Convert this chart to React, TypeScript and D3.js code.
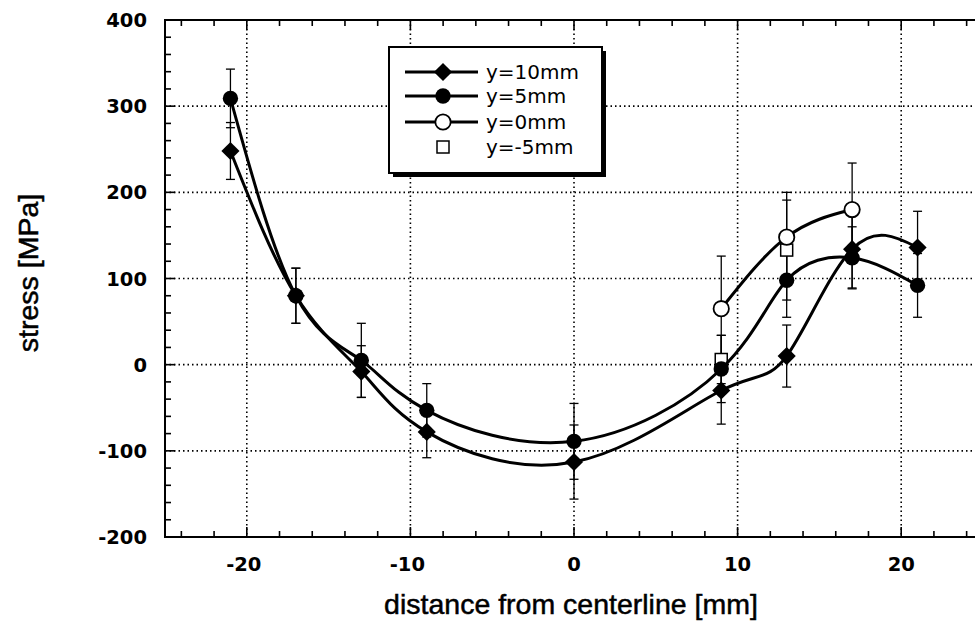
import React from 'react';
import * as d3 from 'd3';

const xPositions = [-21, -17, -13, -9, 0, 9, 13, 17, 21];
const y10Values = [248, 80, -8, -78, -113, -30, 10, 134, 136];
const y10Errors = [33, 32, 30, 30, 43, 39, 36, 45, 42];
const y5Values = [309, 80, 5, -53, -89, -5, 98, 124, 92];
const y5Errors = [34, 32, 43, 31, 44, 39, 43, 36, 37];
const y0X = [9, 13, 17];
const y0Values = [65, 148, 180];
const y0Errors = [61, 52, 54];
const yM5X = [9, 13];
const yM5Values = [6, 133];
const yM5Errors = [28, 58];

const xTickLabels = [-20, -10, 0, 10, 20];
const yTickLabels = [-200, -100, 0, 100, 200, 300, 400];
const legendLabels = ['y=10mm', 'y=5mm', 'y=0mm', 'y=-5mm'];

const W = 975;
const H = 628;
const FONT = "'DejaVu Sans', 'Liberation Sans', Arial, sans-serif";
const TITLE_FONT = "'Liberation Sans', Arial, Helvetica, sans-serif";

export default function App() {
  const x = d3.scaleLinear().domain([-25, 25]).range([165, 983]);
  const y = d3.scaleLinear().domain([-200, 400]).range([537, 20]);
  const line = d3
    .line<[number, number]>()
    .x((d) => x(d[0]))
    .y((d) => y(d[1]))
    .curve(d3.curveNatural);

  const xMinor = d3.range(-24, 25, 2).filter((v) => v % 10 !== 0);
  const yMinor = d3.range(-180, 400, 20).filter((v) => v % 100 !== 0);
  const xMajor = xTickLabels;
  const yMajor = yTickLabels;
  const x0 = x(-25);
  const x1 = x(25);
  const yTop = y(400);
  const yBot = y(-200);

  const diamond = d3.symbol(d3.symbolSquare, 165)();
  const circle = d3.symbol(d3.symbolCircle, 185)();

  const errBar = (xv: number, v: number, e: number, key: string) => {
    const cx = x(xv);
    return (
      <g key={key} stroke="#000" strokeWidth={1.3}>
        <line x1={cx} x2={cx} y1={y(v - e)} y2={y(v + e)} />
        <line x1={cx - 4.5} x2={cx + 4.5} y1={y(v - e)} y2={y(v - e)} />
        <line x1={cx - 4.5} x2={cx + 4.5} y1={y(v + e)} y2={y(v + e)} />
      </g>
    );
  };

  const zip = (xs: number[], ys: number[]) => xs.map((v, i) => [v, ys[i]] as [number, number]);

  const legendX0 = 389;
  const legendY0 = 47;
  const rowY = [72, 96, 122, 147];

  return (
    <div style={{ position: 'absolute', left: 0, top: 0 }}>
      <svg width={W} height={H} style={{ display: 'block', background: '#fff' }}>
        <rect x={0} y={0} width={W} height={H} fill="#fff" />
        {/* grid */}
        <g stroke="#000" strokeWidth={1.6} strokeDasharray="1.5,3">
          {xMajor.map((v) => (
            <line key={'gx' + v} x1={x(v)} x2={x(v)} y1={yTop} y2={yBot} />
          ))}
          {yMajor
            .filter((v) => v !== -200 && v !== 400)
            .map((v) => (
              <line key={'gy' + v} x1={x0} x2={x1} y1={y(v)} y2={y(v)} />
            ))}
        </g>
        {/* frame */}
        <rect x={x0} y={yTop} width={x1 - x0} height={yBot - yTop} fill="none" stroke="#000" strokeWidth={2} />
        {/* ticks */}
        <g stroke="#000" strokeWidth={1.6}>
          {xMinor.map((v) => (
            <g key={'xm' + v}>
              <line x1={x(v)} x2={x(v)} y1={yBot} y2={yBot - 6} />
              <line x1={x(v)} x2={x(v)} y1={yTop} y2={yTop + 6} />
            </g>
          ))}
          {xMajor.map((v) => (
            <g key={'xM' + v}>
              <line x1={x(v)} x2={x(v)} y1={yBot} y2={yBot - 10} />
              <line x1={x(v)} x2={x(v)} y1={yTop} y2={yTop + 10} />
            </g>
          ))}
          {yMinor.map((v) => (
            <line key={'ym' + v} x1={x0} x2={x0 + 6} y1={y(v)} y2={y(v)} />
          ))}
          {yMajor.map((v) => (
            <line key={'yM' + v} x1={x0} x2={x0 + 10} y1={y(v)} y2={y(v)} />
          ))}
        </g>
        {/* tick labels */}
        <g fontFamily={FONT} fontWeight="bold" fontSize={19.5} fill="#000">
          {yTickLabels.map((v) => (
            <text key={'yl' + v} x={147} y={y(v)} dy="0.36em" textAnchor="end">
              {v < 0 ? '-' + Math.abs(v) : String(v)}
            </text>
          ))}
          {xTickLabels.map((v) => (
            <text key={'xl' + v} x={x(v) - (v < 0 ? 3 : 0)} y={564} dy="0.36em" textAnchor="middle">
              {v < 0 ? '-' + Math.abs(v) : String(v)}
            </text>
          ))}
        </g>
        <text
          x={571}
          y={614}
          textAnchor="middle"
          fontFamily={TITLE_FONT}
          fontSize={28.5}
          fill="#000"
          stroke="#000"
          strokeWidth={0.5}
        >
          distance from centerline [mm]
        </text>
        <text
          transform={`translate(38,273) rotate(-90)`}
          textAnchor="middle"
          fontFamily={TITLE_FONT}
          fontSize={28.5}
          fill="#000"
          stroke="#000"
          strokeWidth={0.5}
        >
          stress [MPa]
        </text>

        {/* error bars */}
        {xPositions.map((xv, i) => errBar(xv, y10Values[i], y10Errors[i], 'e10' + i))}
        {xPositions.map((xv, i) => errBar(xv, y5Values[i], y5Errors[i], 'e5' + i))}
        {y0X.map((xv, i) => errBar(xv, y0Values[i], y0Errors[i], 'e0' + i))}
        {yM5X.map((xv, i) => errBar(xv, yM5Values[i], yM5Errors[i], 'em5' + i))}

        {/* squares */}
        {yM5X.map((xv, i) => (
          <rect
            key={'sq' + i}
            x={x(xv) - 6}
            y={y(yM5Values[i]) - 6}
            width={12}
            height={12}
            fill="#fff"
            stroke="#000"
            strokeWidth={1.5}
          />
        ))}

        {/* lines */}
        <g fill="none" stroke="#000" strokeWidth={3}>
          <path d={line(zip(xPositions, y10Values)) || ''} />
          <path d={line(zip(xPositions, y5Values)) || ''} />
          <path d={line(zip(y0X, y0Values)) || ''} />
        </g>

        {/* markers */}
        {xPositions.map((xv, i) => (
          <path
            key={'d' + i}
            d={diamond || ''}
            transform={`translate(${x(xv)},${y(y10Values[i])}) rotate(45)`}
            fill="#000"
          />
        ))}
        {xPositions.map((xv, i) => (
          <path key={'c' + i} d={circle || ''} transform={`translate(${x(xv)},${y(y5Values[i])})`} fill="#000" />
        ))}
        {y0X.map((xv, i) => (
          <path
            key={'o' + i}
            d={circle || ''}
            transform={`translate(${x(xv)},${y(y0Values[i])})`}
            fill="#fff"
            stroke="#000"
            strokeWidth={1.8}
          />
        ))}

        {/* legend */}
        <rect x={legendX0 + 4} y={legendY0 + 4} width={213} height={126} fill="#000" />
        <rect x={legendX0} y={legendY0} width={213} height={126} fill="#fff" stroke="#000" strokeWidth={2} />
        {legendLabels.map((lab, i) => (
          <g key={'lg' + i}>
            {i < 3 && <line x1={405} x2={478} y1={rowY[i]} y2={rowY[i]} stroke="#000" strokeWidth={3} />}
            {i === 0 && <path d={diamond || ''} transform={`translate(443,${rowY[i]}) rotate(45)`} fill="#000" />}
            {i === 1 && <path d={circle || ''} transform={`translate(443,${rowY[i]})`} fill="#000" />}
            {i === 2 && (
              <path d={circle || ''} transform={`translate(443,${rowY[i]})`} fill="#fff" stroke="#000" strokeWidth={1.8} />
            )}
            {i === 3 && (
              <rect x={437} y={rowY[i] - 6} width={12} height={12} fill="#fff" stroke="#000" strokeWidth={1.5} />
            )}
            <text x={486} y={rowY[i]} dy="0.36em" fontFamily={FONT} fontSize={20} fill="#000">
              {lab}
            </text>
          </g>
        ))}
      </svg>
    </div>
  );
}
